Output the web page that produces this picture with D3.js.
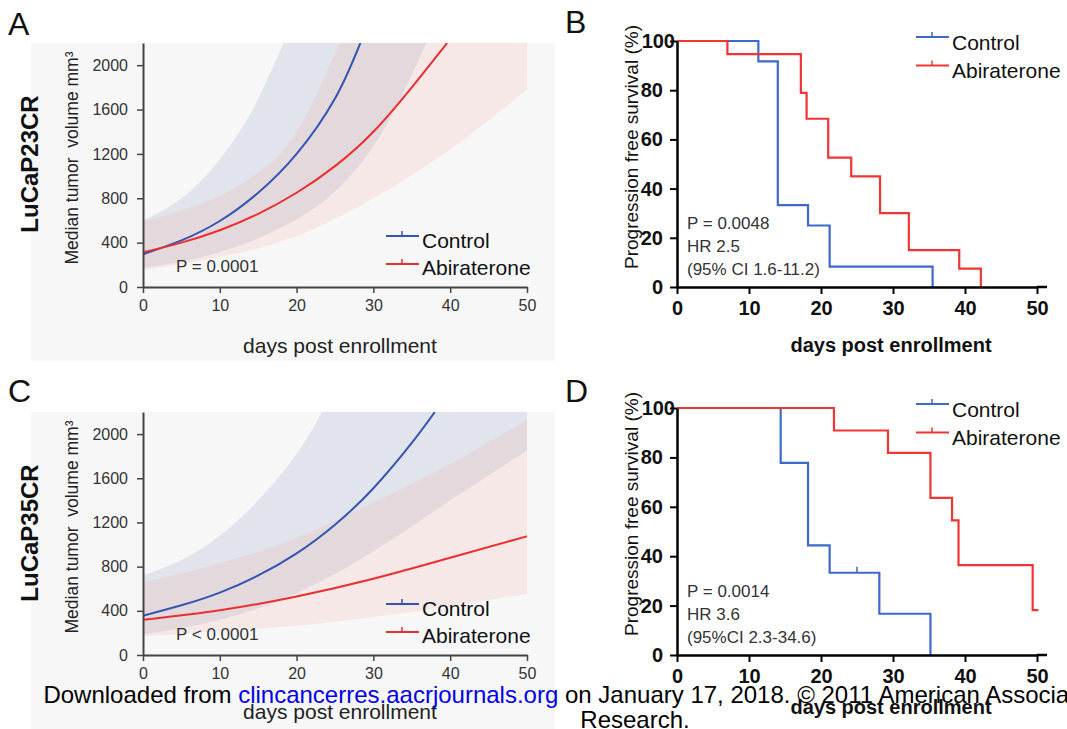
<!DOCTYPE html>
<html>
<head>
<meta charset="utf-8">
<script src="https://cdn.jsdelivr.net/npm/d3@7"></script>
<style>
  body { margin: 0; background: #fff; }
  svg { display: block; }
</style>
</head>
<body>
<div id="chart"></div>
<script>
/* ---- Data: tumor volume (median and 95% band), [day, mm3] ---- */
const aControlMedian = [[0, 295], [5, 420], [10, 595], [15, 850], [20, 1200], [25, 1700], [28.3, 2200]];
const aControlUpper  = [[0, 600], [4, 750], [8, 990], [12, 1340], [15, 1700], [18.3, 2200]];
const aControlLower  = [[0, 170], [7, 260], [14, 410], [20, 610], [25, 860], [31, 1380], [36.9, 2200]];
const aAbiMedian     = [[0, 312], [5, 400], [10, 512], [15, 660], [20, 850], [25, 1090], [30, 1400], [35, 1800], [39.6, 2200]];
const aAbiUpper      = [[0, 590], [5, 690], [10, 820], [15, 1030], [20, 1400], [25.6, 2200]];
const aAbiLower      = [[0, 150], [10, 270], [20, 460], [30, 800], [40, 1240], [50, 1780]];

const cControlMedian = [[0, 356], [5, 450], [10, 565], [15, 720], [20, 920], [25, 1180], [30, 1510], [35, 1920], [38, 2200]];
const cControlUpper  = [[0, 720], [5, 860], [10, 1080], [15, 1400], [20, 1820], [23.3, 2200]];
const cControlLower  = [[0, 185], [10, 320], [20, 560], [30, 940], [40, 1400], [50, 1850]];
const cAbiMedian     = [[0, 318], [10, 405], [20, 530], [30, 690], [40, 880], [50, 1075]];
const cAbiUpper      = [[0, 655], [10, 830], [20, 1060], [30, 1380], [40, 1730], [50, 2130]];
const cAbiLower      = [[0, 170], [10, 215], [20, 265], [30, 345], [40, 440], [50, 555]];

/* ---- Data: progression free survival (Kaplan-Meier steps) ---- */
const bControlDays = [0, 11.3, 14.0, 18.2, 21.2, 35.5];
const bControlSurv = [100, 91.7, 33.3, 25, 8.3, 0];
const bAbiDays = [0, 7.0, 17.2, 18.0, 21.0, 24.2, 28.2, 32.2, 39.2, 42.2];
const bAbiSurv = [100, 94.7, 78.9, 68.4, 52.6, 45, 30, 15, 7.5, 0];

const dControlDays = [0, 14.4, 18.2, 21.2, 28.1, 35.2];
const dControlSurv = [100, 77.8, 44.4, 33.3, 16.7, 0];
const dControlCensor = [[25.0, 33.3]];
const dAbiDays = [0, 21.8, 29.3, 35.2, 38.2, 39.1, 49.4, 50.2];
const dAbiSurv = [100, 90.9, 81.8, 63.6, 54.5, 36.4, 18.2, 18.2];

const seriesNames = ["Control", "Abiraterone"];
const dayTicks = [0, 10, 20, 30, 40, 50];
const volumeTicks = [0, 400, 800, 1200, 1600, 2000];
const survivalTicks = [0, 20, 40, 60, 80, 100];

const FONT = "'Liberation Sans', Arial, Helvetica, sans-serif";
const BLUE = "#3454b4", RED = "#ee2e2e";
const KM_BLUE = "#3d68cc", KM_RED = "#f03535";
const BAND_BLUE = "rgb(100,120,174)", BAND_RED = "rgb(241,147,134)";

const svg = d3.select("#chart").append("svg")
  .attr("width", 1067)
  .attr("height", 729)
  .attr("font-family", FONT);

/* Legend with the small tick mark in the middle of each line */
function legend(x0, yLines, yTexts, colors) {
  seriesNames.forEach((name, i) => {
    svg.append("line")
      .attr("x1", x0).attr("x2", x0 + 33)
      .attr("y1", yLines[i]).attr("y2", yLines[i])
      .attr("stroke", colors[i]).attr("stroke-width", 2);
    svg.append("line")
      .attr("x1", x0 + 16).attr("x2", x0 + 16)
      .attr("y1", yLines[i]).attr("y2", yLines[i] - 5)
      .attr("stroke", colors[i]).attr("stroke-width", 1.5);
    svg.append("text")
      .attr("x", x0 + 36).attr("y", yTexts[i])
      .attr("font-size", 21).attr("fill", "#111")
      .text(name);
  });
}

/* Growth panels (A, C) */
function drawGrowth(o) {
  svg.append("rect")
    .attr("x", 31).attr("y", o.top)
    .attr("width", 524).attr("height", o.bgBottom - o.top)
    .attr("fill", "#f7f7f7");

  const x = d3.scaleLinear().domain([0, 50]).range([143, 527]);
  const y = d3.scaleLinear().domain([0, 2200]).range([o.bottom, o.top]);

  svg.append("clipPath").attr("id", o.id + "-plot")
    .append("rect")
    .attr("x", x(0)).attr("y", y(2200))
    .attr("width", x(50) - x(0)).attr("height", y(0) - y(2200));
  const plot = svg.append("g").attr("clip-path", `url(#${o.id}-plot)`);

  const curve = d3.curveNatural;
  const line = d3.line().x(d => x(d[0])).y(d => y(d[1])).curve(curve);
  const below = d3.area().x(d => x(d[0])).y0(y(0)).y1(d => y(d[1])).curve(curve);
  const above = d3.area().x(d => x(d[0])).y0(y(2200)).y1(d => y(d[1])).curve(curve);

  // band = region under the upper edge and over the lower edge
  o.bands.forEach((b, i) => {
    const cid = `${o.id}-band${i}`;
    const cp = svg.append("clipPath").attr("id", cid);
    cp.append("path").attr("d", below(b.upper));
    const last = b.upper[b.upper.length - 1];
    if (last[1] >= 2200) {
      cp.append("rect")
        .attr("x", x(last[0]) - 0.5).attr("y", y(2200))
        .attr("width", x(50) - x(last[0]) + 0.5).attr("height", y(0) - y(2200));
    }
    plot.append("path")
      .attr("d", above(b.lower))
      .attr("clip-path", `url(#${cid})`)
      .attr("fill", b.color)
      .attr("fill-opacity", 0.15);
  });

  o.medians.forEach(m => {
    plot.append("path")
      .attr("d", line(m.data))
      .attr("fill", "none")
      .attr("stroke", m.color)
      .attr("stroke-width", 2);
  });

  const xAxis = svg.append("g")
    .attr("transform", `translate(0,${o.bottom})`)
    .call(d3.axisBottom(x).tickValues(dayTicks).tickSize(6).tickPadding(7).tickSizeOuter(0));
  const yAxis = svg.append("g")
    .attr("transform", `translate(${x(0)},0)`)
    .call(d3.axisLeft(y).tickValues(volumeTicks).tickFormat(d3.format("d"))
      .tickSize(6).tickPadding(9).tickSizeOuter(0));
  [xAxis, yAxis].forEach(a => {
    a.attr("font-family", FONT).attr("font-size", 16);
    a.select(".domain").attr("stroke", "#444").attr("stroke-width", 2);
    a.selectAll(".tick line").attr("stroke", "#444").attr("stroke-width", 1.5);
    a.selectAll(".tick text").attr("fill", "#333");
  });

  svg.append("text")
    .attr("x", 8).attr("y", o.letterY)
    .attr("font-size", 32).attr("fill", "#111")
    .text(o.letter);

  svg.append("text")
    .attr("transform", `translate(38,${o.top + 121}) rotate(-90)`)
    .attr("text-anchor", "middle")
    .attr("font-size", 24).attr("font-weight", "bold").attr("fill", "#111")
    .text(o.model);

  svg.append("text")
    .attr("transform", `translate(78,${o.top + 115}) rotate(-90)`)
    .attr("text-anchor", "middle")
    .attr("font-size", 17.5).attr("fill", "#222")
    .attr("xml:space", "preserve")
    .text("Median tumor  volume mm³");

  svg.append("text")
    .attr("x", 340).attr("y", o.titleY)
    .attr("text-anchor", "middle")
    .attr("font-size", 21).attr("fill", "#222")
    .text("days post enrollment");

  svg.append("text")
    .attr("x", 176).attr("y", o.bottom - 15)
    .attr("font-size", 17).attr("fill", "#333")
    .text(o.pText);

  legend(386, [o.bottom - 51, o.bottom - 23], [o.bottom - 39.5, o.bottom - 12.5], [BLUE, RED]);
}

/* Survival panels (B, D) */
function drawKM(o) {
  const x = d3.scaleLinear().domain([0, 50]).range([677, 1037]);
  const y = d3.scaleLinear().domain([0, 100]).range([o.bottom, o.top]);
  const step = d3.line().x(d => x(d[0])).y(d => y(d[1])).curve(d3.curveStepAfter);

  o.series.forEach(s => {
    svg.append("path")
      .datum(d3.zip(s.days, s.surv))
      .attr("d", step)
      .attr("fill", "none")
      .attr("stroke", s.color)
      .attr("stroke-width", 2.2);
    (s.censor || []).forEach(c => {
      svg.append("line")
        .attr("x1", x(c[0])).attr("x2", x(c[0]))
        .attr("y1", y(c[1])).attr("y2", y(c[1]) - 6)
        .attr("stroke", s.color).attr("stroke-width", 1.5);
    });
  });

  const xAxis = svg.append("g")
    .attr("transform", `translate(0,${o.bottom})`)
    .call(d3.axisBottom(x).tickValues(dayTicks).tickSize(7).tickPadding(7).tickSizeOuter(0));
  const yAxis = svg.append("g")
    .attr("transform", `translate(${x(0)},0)`)
    .call(d3.axisLeft(y).tickValues(survivalTicks).tickSize(7).tickPadding(7).tickSizeOuter(0));
  [xAxis, yAxis].forEach(a => {
    a.attr("font-family", FONT).attr("font-size", 20).attr("font-weight", "bold");
    a.select(".domain").attr("stroke", "#000").attr("stroke-width", 2.5);
    a.selectAll(".tick line").attr("stroke", "#000").attr("stroke-width", 2);
    a.selectAll(".tick text").attr("fill", "#111");
  });
  yAxis.selectAll(".tick text").filter(d => d === 100).attr("x", -2);
  svg.append("line")
    .attr("x1", x(50)).attr("x2", x(50) + 10)
    .attr("y1", o.bottom).attr("y2", o.bottom)
    .attr("stroke", "#000").attr("stroke-width", 2.5);

  svg.append("text")
    .attr("x", 565).attr("y", o.letterY)
    .attr("font-size", 32).attr("fill", "#111")
    .text(o.letter);

  svg.append("text")
    .attr("transform", `translate(638,${o.top + 106}) rotate(-90)`)
    .attr("text-anchor", "middle")
    .attr("font-size", 19).attr("fill", "#111")
    .text("Progression free survival (%)");

  svg.append("text")
    .attr("x", 891).attr("y", o.titleY)
    .attr("text-anchor", "middle")
    .attr("font-size", 20).attr("font-weight", "bold").attr("fill", "#111")
    .text("days post enrollment");

  o.notes.forEach((t, i) => {
    svg.append("text")
      .attr("x", 687).attr("y", o.bottom - 58 + i * 23)
      .attr("font-size", 17).attr("fill", "#333")
      .text(t);
  });

  legend(916, [o.top - 4, o.top + 24.5], [o.top + 9, o.top + 37], [KM_BLUE, KM_RED]);
}

drawGrowth({
  id: "a", letter: "A", letterY: 35, model: "LuCaP23CR",
  top: 43, bottom: 287, bgBottom: 361, titleY: 353, pText: "P = 0.0001",
  bands: [
    { upper: aControlUpper, lower: aControlLower, color: BAND_BLUE },
    { upper: aAbiUpper, lower: aAbiLower, color: BAND_RED }
  ],
  medians: [{ data: aControlMedian, color: BLUE }, { data: aAbiMedian, color: RED }]
});

drawGrowth({
  id: "c", letter: "C", letterY: 402, model: "LuCaP35CR",
  top: 412, bottom: 655, bgBottom: 729, titleY: 719, pText: "P < 0.0001",
  bands: [
    { upper: cControlUpper, lower: cControlLower, color: BAND_BLUE },
    { upper: cAbiUpper, lower: cAbiLower, color: BAND_RED }
  ],
  medians: [{ data: cControlMedian, color: BLUE }, { data: cAbiMedian, color: RED }]
});

drawKM({
  letter: "B", letterY: 33, top: 41, bottom: 287, titleY: 352,
  notes: ["P = 0.0048", "HR 2.5", "(95% CI 1.6-11.2)"],
  series: [
    { days: bControlDays, surv: bControlSurv, color: KM_BLUE },
    { days: bAbiDays, surv: bAbiSurv, color: KM_RED }
  ]
});

drawKM({
  letter: "D", letterY: 402, top: 408, bottom: 655, titleY: 714,
  notes: ["P = 0.0014", "HR 3.6", "(95%CI 2.3-34.6)"],
  series: [
    { days: dControlDays, surv: dControlSurv, color: KM_BLUE, censor: dControlCensor },
    { days: dAbiDays, surv: dAbiSurv, color: KM_RED }
  ]
});

/* Download footer */
const foot = svg.append("text")
  .attr("x", 635).attr("y", 703)
  .attr("text-anchor", "middle")
  .attr("font-size", 24).attr("fill", "#000");
foot.append("tspan").text("Downloaded from ");
foot.append("tspan").attr("fill", "#0000ee").text("clincancerres.aacrjournals.org");
foot.append("tspan").text(" on January 17, 2018. © 2011 American Association for Cancer");
svg.append("text")
  .attr("x", 635).attr("y", 728)
  .attr("text-anchor", "middle")
  .attr("font-size", 24).attr("fill", "#000")
  .text("Research.");
</script>
</body>
</html>
